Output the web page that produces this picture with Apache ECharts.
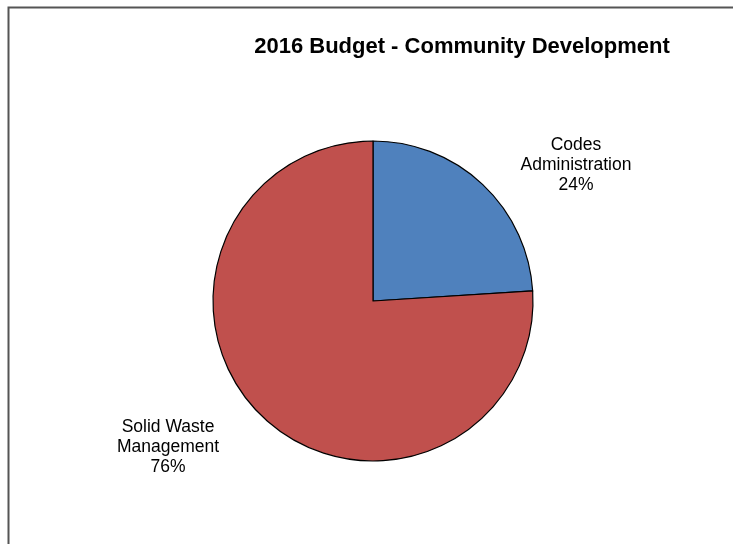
<!DOCTYPE html>
<html>
<head>
<meta charset="utf-8">
<script src="https://cdn.jsdelivr.net/npm/echarts@6/dist/echarts.min.js"></script>
<style>
  html, body { margin: 0; padding: 0; background: #fff; }
  #chart { width: 733px; height: 544px; }
</style>
</head>
<body>
<div id="chart"></div>
<script>
// Budget shares by division (percent)
const categories = ['Codes\nAdministration', 'Solid Waste\nManagement'];
const shares = [24, 76];
const colors = ['#4F81BD', '#C0504D'];

// Label anchor points (text block centres)
const labelCentres = [[576, 165], [168, 447]];

const chart = echarts.init(document.getElementById('chart'), null, { renderer: 'canvas' });

chart.setOption({
  backgroundColor: '#ffffff',
  animation: false,
  title: {
    text: '2016 Budget - Community Development',
    left: 457,
    top: 31,
    textAlign: 'center',
    textStyle: {
      fontFamily: 'Liberation Sans, Arial, sans-serif',
      fontWeight: 'bold',
      fontSize: 22,
      color: '#000'
    }
  },
  graphic: [{
    type: 'rect',
    shape: { x: 8.5, y: 7.5, width: 800, height: 600 },
    style: { fill: 'none', stroke: '#555', lineWidth: 2 },
    silent: true
  }],
  series: [{
    type: 'pie',
    center: [373, 301],
    radius: 160,
    startAngle: 90,
    clockwise: true,
    data: categories.map((name, i) => ({
      name: name,
      value: shares[i],
      itemStyle: { color: colors[i] }
    })),
    itemStyle: { borderColor: '#000', borderWidth: 1.2 },
    label: {
      show: true,
      position: 'outside',
      formatter: p => p.name + '\n' + Math.round(p.percent) + '%',
      fontFamily: 'Liberation Sans, Arial, sans-serif',
      fontSize: 17.5,
      lineHeight: 20,
      color: '#000',
      align: 'center'
    },
    labelLine: { show: false },
    labelLayout: function (params) {
      const c = labelCentres[params.dataIndex];
      return { x: c[0], y: c[1], align: 'center', verticalAlign: 'middle' };
    },
    emphasis: { disabled: true }
  }]
});
</script>
</body>
</html>
